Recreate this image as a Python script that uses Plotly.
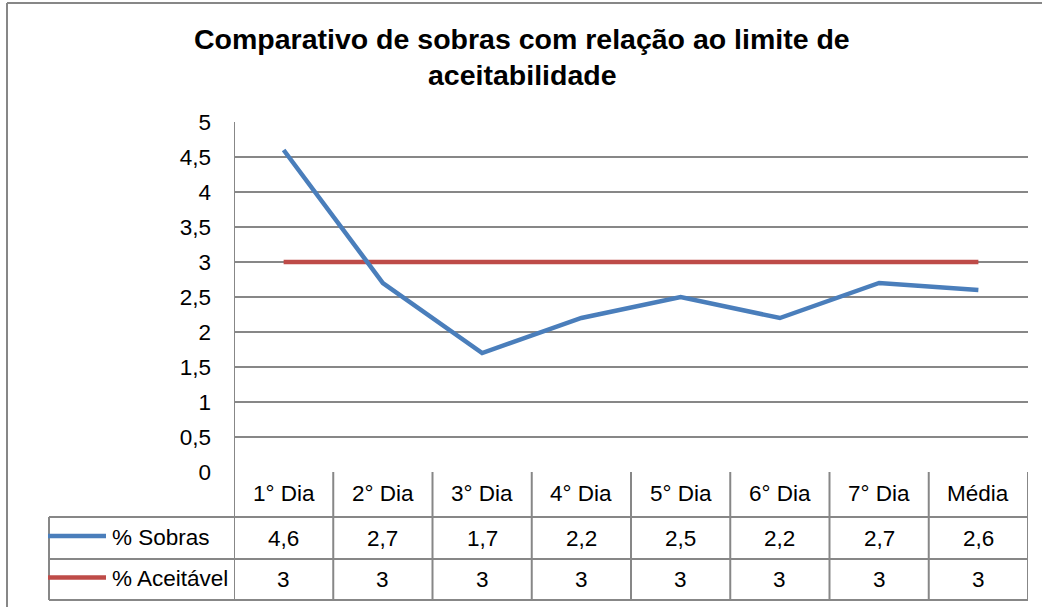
import plotly.graph_objects as go

# ---------------- data ----------------
categories = ["1° Dia", "2° Dia", "3° Dia", "4° Dia", "5° Dia", "6° Dia", "7° Dia", "Média"]
sobras = [4.6, 2.7, 1.7, 2.2, 2.5, 2.2, 2.7, 2.6]
aceitavel = [3, 3, 3, 3, 3, 3, 3, 3]
series_names = ["% Sobras", "% Aceitável"]
title_lines = ["Comparativo de sobras com relação ao limite de", "aceitabilidade"]
y_ticks = [0, 0.5, 1, 1.5, 2, 2.5, 3, 3.5, 4, 4.5, 5]

# ---------------- styling / layout geometry ----------------
W, H = 1042, 607
L, R, T, B = 234, 1028, 122, 472          # plot area in pixels
BLUE = "#4A7EBB"
RED = "#BE4B48"
GRAY = "#878787"
NARROW = "Liberation Sans, Arial, sans-serif"
BOLD = "Liberation Sans, Arial, sans-serif"
TXT = 22.5


def px(x):
    return (x - L) / (R - L)


def py(y):
    return (B - y) / (B - T)


def fmt(v):
    s = ("%g" % v)
    return s.replace(".", ",")


row_top = [B, 517, 559]          # header, row1, row2 tops
row_bot = [517, 559, 600]

fig = go.Figure()
fig.add_trace(go.Scatter(x=categories, y=aceitavel, mode="lines", name=series_names[1],
                         line=dict(color=RED, width=4.5), showlegend=False, hoverinfo="skip"))
fig.add_trace(go.Scatter(x=categories, y=sobras, mode="lines", name=series_names[0],
                         line=dict(color=BLUE, width=4.5), showlegend=False, hoverinfo="skip"))

shapes = []
annotations = []

# outer chart frame (left and top edges visible)
shapes.append(dict(type="line", xref="paper", yref="paper", x0=px(7), x1=px(1045),
                   y0=py(3), y1=py(3), line=dict(color=GRAY, width=2)))
shapes.append(dict(type="line", xref="paper", yref="paper", x0=px(7), x1=px(7),
                   y0=py(3), y1=py(610), line=dict(color=GRAY, width=2)))

# left axis line extending through the table
shapes.append(dict(type="line", xref="x", yref="paper", x0=-0.5, x1=-0.5,
                   y0=1, y1=py(row_bot[-1]), line=dict(color=GRAY, width=2)))
# table vertical boundaries
n = len(categories)
for i in range(n):
    xb = i + 0.5
    shapes.append(dict(type="line", xref="x", yref="paper", x0=xb, x1=xb,
                       y0=0, y1=py(row_bot[-1]), line=dict(color=GRAY, width=2)))
# legend column left border
shapes.append(dict(type="line", xref="paper", yref="paper", x0=px(49), x1=px(49),
                   y0=py(row_top[1]), y1=py(row_bot[-1]), line=dict(color=GRAY, width=2)))
# table horizontal lines
for yy in [row_top[1], row_top[2], row_bot[2]]:
    shapes.append(dict(type="line", xref="paper", yref="paper", x0=px(49), x1=1,
                       y0=py(yy), y1=py(yy), line=dict(color=GRAY, width=2)))

# header labels
for i, c in enumerate(categories):
    annotations.append(dict(xref="x", yref="paper", x=i, y=py((row_top[0] + row_bot[0]) / 2 - 1),
                            text=c, showarrow=False, font=dict(family=NARROW, size=TXT, color="#000"),
                            xanchor="center", yanchor="middle"))
# value rows
for r, (vals, color, name) in enumerate([(sobras, BLUE, series_names[0]), (aceitavel, RED, series_names[1])]):
    ymid = (row_top[r + 1] + row_bot[r + 1]) / 2
    for i, v in enumerate(vals):
        annotations.append(dict(xref="x", yref="paper", x=i, y=py(ymid),
                                text=fmt(v), showarrow=False,
                                font=dict(family=NARROW, size=TXT, color="#000"),
                                xanchor="center", yanchor="middle"))
    # legend key
    shapes.append(dict(type="line", xref="paper", yref="paper", x0=px(48), x1=px(106),
                       y0=py(ymid - 2), y1=py(ymid - 2), line=dict(color=color, width=4.5)))
    annotations.append(dict(xref="paper", yref="paper", x=px(110), y=py(ymid - 1),
                            text=name, showarrow=False,
                            font=dict(family=NARROW, size=TXT, color="#000"),
                            xanchor="left", yanchor="middle"))

# title (two lines)
for k, (line, ycen) in enumerate(zip(title_lines, [39, 75])):
    annotations.append(dict(xref="paper", yref="paper", x=px(522), y=py(ycen),
                            text="<b>%s</b>" % line, showarrow=False,
                            font=dict(family=BOLD, size=28.5, color="#000"),
                            xanchor="center", yanchor="middle"))

fig.update_layout(
    width=W, height=H, autosize=False,
    margin=dict(l=L, r=W - R, t=T, b=H - B, pad=0),
    paper_bgcolor="white", plot_bgcolor="white",
    separators=",.",
    shapes=shapes, annotations=annotations,
    xaxis=dict(range=[-0.5, n - 0.5], showgrid=False, showticklabels=False, zeroline=False,
               showline=False, ticks="", fixedrange=True),
    yaxis=dict(range=[0, 5], tickvals=y_ticks, ticktext=[fmt(v) for v in y_ticks],
               showgrid=True, gridcolor=GRAY, gridwidth=2, zeroline=False, showline=False,
               ticks="", ticklabelstandoff=22,
               tickfont=dict(family=NARROW, size=TXT, color="#000"), fixedrange=True),
    showlegend=False,
)

fig.write_html("out.html", config={"displayModeBar": False},
               post_script="document.body.style.margin='0';")
